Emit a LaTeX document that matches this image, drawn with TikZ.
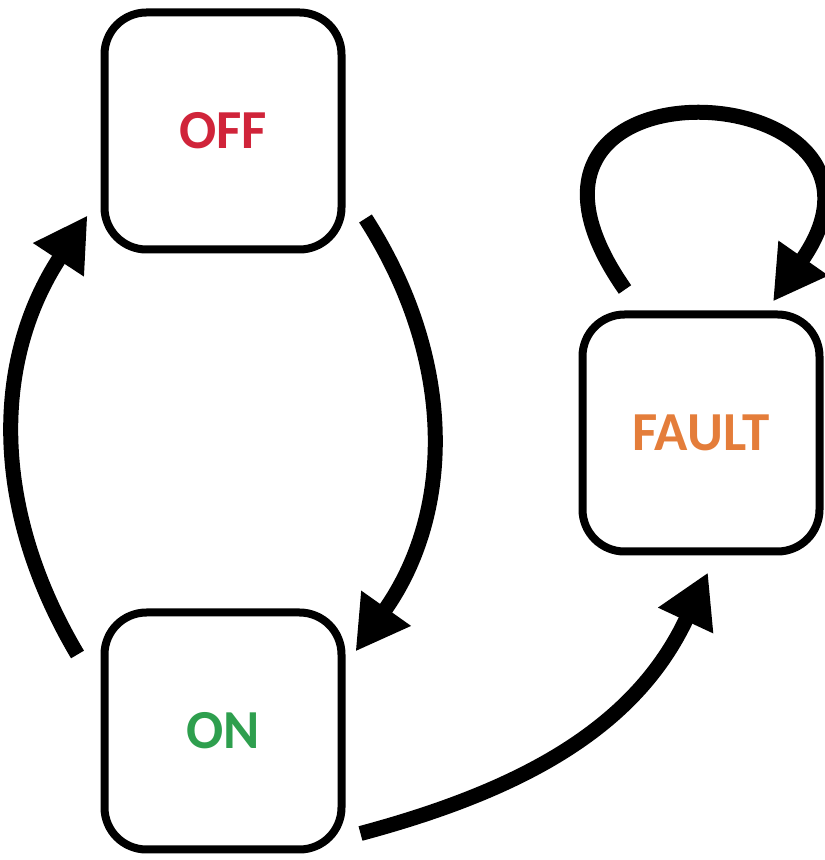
\documentclass[tikz,border=0pt]{standalone}
\usepackage{fontspec}
\setmainfont{Carlito}
\usetikzlibrary{arrows.meta}
\definecolor{offred}{HTML}{D0243A}
\definecolor{ongreen}{HTML}{2E9F4E}
\definecolor{faultorange}{HTML}{E47D3A}
\begin{document}
\begin{tikzpicture}[x=1pt,y=1pt,
  state/.style={draw, line width=8pt, rounded corners=42pt, minimum size=237pt, inner sep=0pt,
    font=\fontsize{55}{60}\selectfont\bfseries},
  trans/.style={line width=15pt, -{Triangle[length=53pt,width=57pt]}}]
\useasboundingbox (0,0) rectangle (825,860);
\node[state, text=offred] (off) at (223,729) {OFF};
\node[state, text=ongreen] (on) at (223,129) {ON};
\node[state, text=faultorange] (fault) at (701,427) {FAULT};
\draw[trans] ([shift={(-23,-46)}]on.north west) to[bend left=32] ([shift={(-13,38)}]off.south west);
\draw[trans] ([shift={(20,35)}]off.south east) to[bend left=34] ([shift={(10,-43)}]on.north east);
\draw[trans] ([shift={(15,20)}]on.south east) to[out=15,in=-115] ([shift={(7,-17)}]fault.south);
\draw[trans] ([shift={(-76,21)}]fault.north) .. controls +(125:300) and +(55:280) .. ([shift={(72,9)}]fault.north);
\end{tikzpicture}
\end{document}
